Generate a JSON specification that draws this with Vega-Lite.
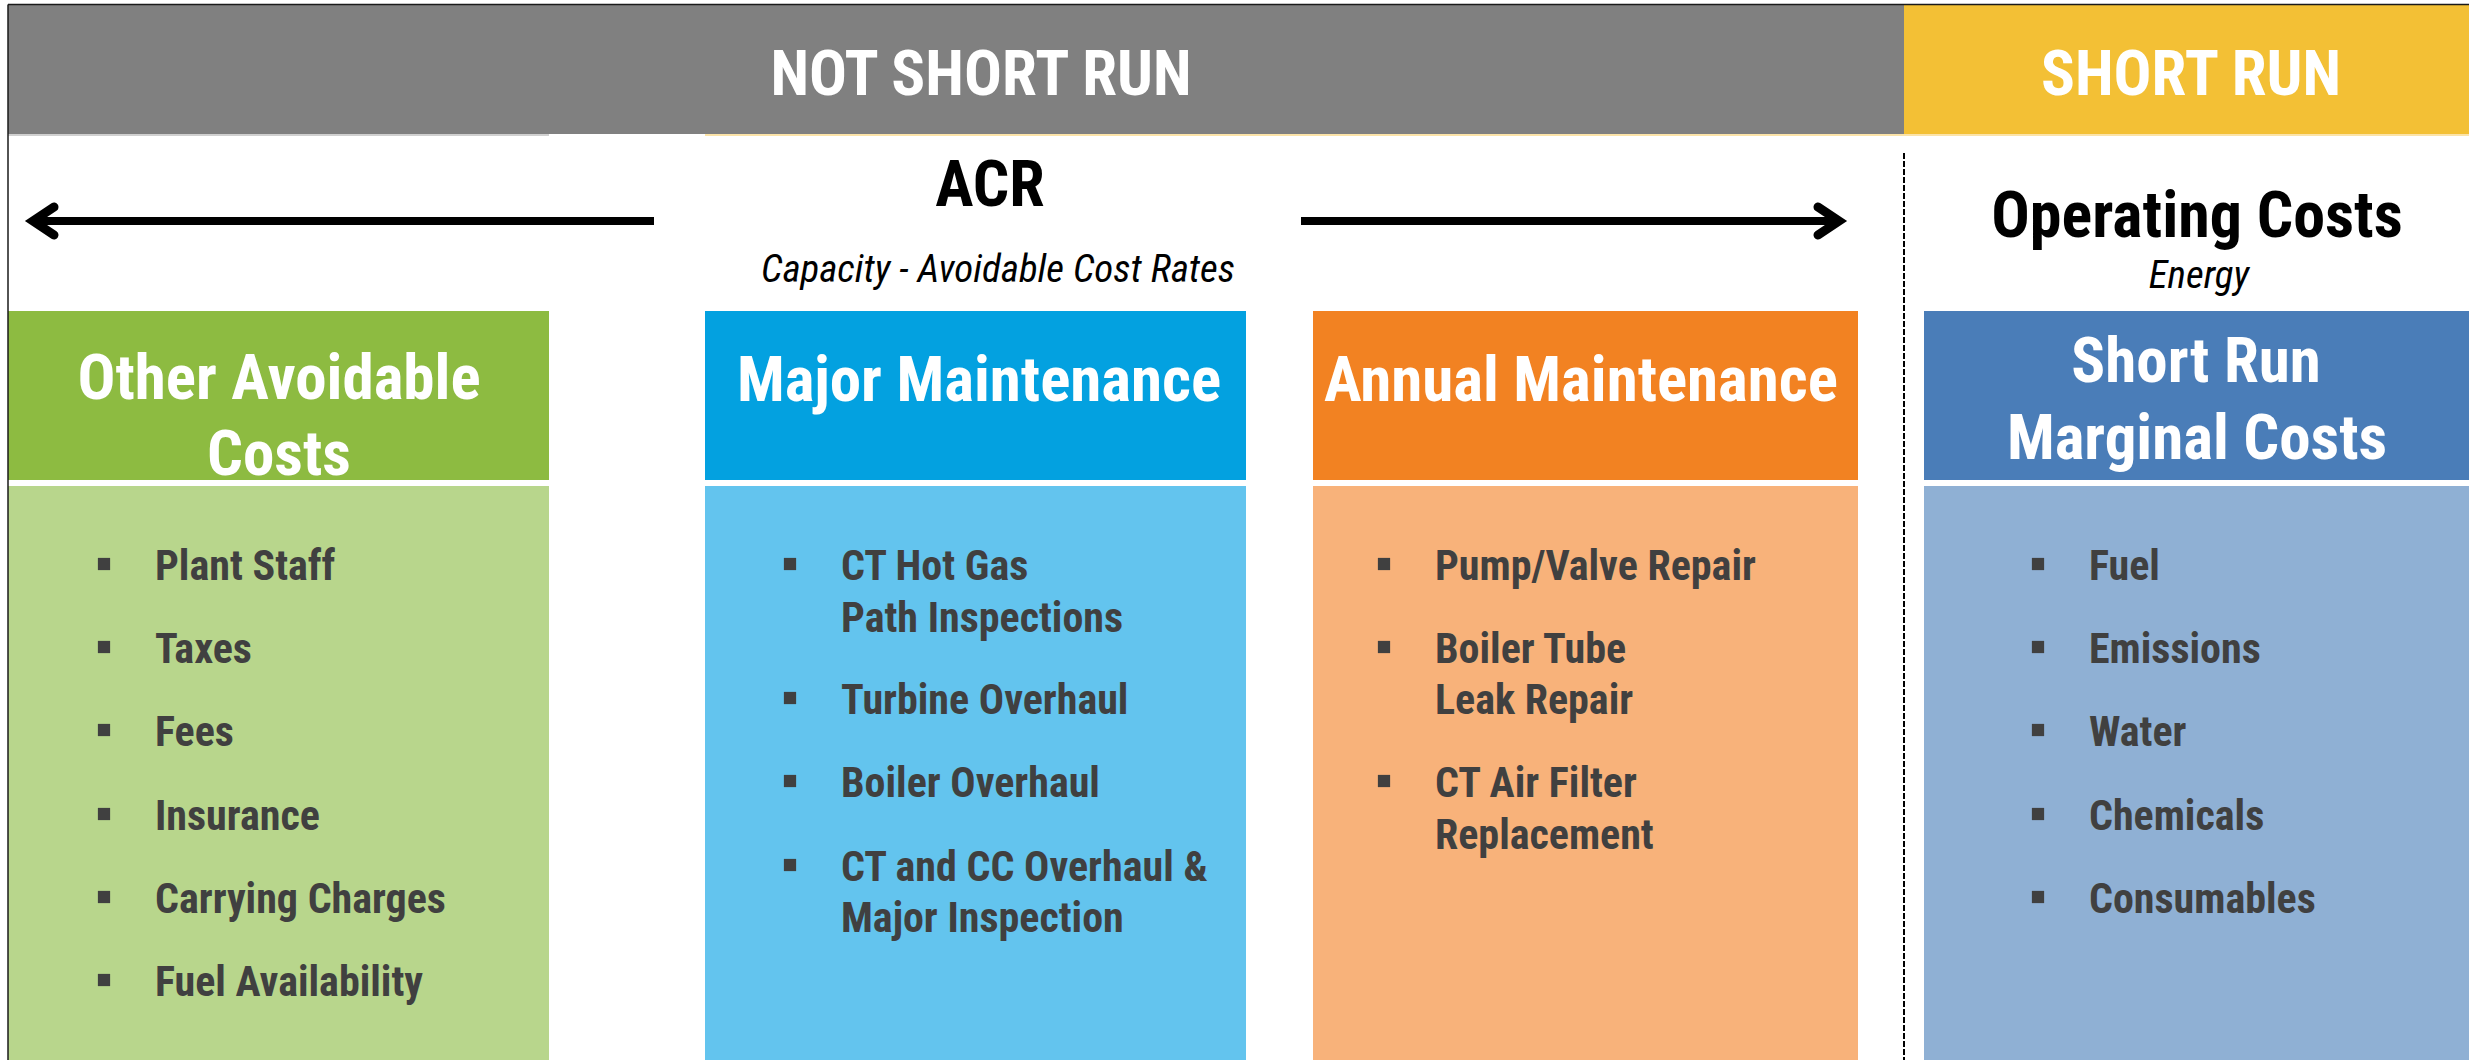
{
  "$schema": "https://vega.github.io/schema/vega-lite/v6.json",
  "width": 2469,
  "height": 1060,
  "padding": 0,
  "autosize": {"type": "none"},
  "background": "#ffffff",
  "config": {"view": {"stroke": null}},
  "resolve": {"scale": {"color": "independent"}},
  "datasets": {
    "blocks": [
      {"section": "NOT SHORT RUN banner", "x": 8, "x2": 1904, "y": 5, "y2": 134},
      {"section": "SHORT RUN banner", "x": 1904, "x2": 2469, "y": 5, "y2": 134},
      {"section": "Other Avoidable Costs header", "x": 8, "x2": 549, "y": 311, "y2": 480},
      {"section": "Other Avoidable Costs list", "x": 8, "x2": 549, "y": 486, "y2": 1060},
      {"section": "Major Maintenance header", "x": 705, "x2": 1246, "y": 311, "y2": 480},
      {"section": "Major Maintenance list", "x": 705, "x2": 1246, "y": 486, "y2": 1060},
      {"section": "Annual Maintenance header", "x": 1313, "x2": 1858, "y": 311, "y2": 480},
      {"section": "Annual Maintenance list", "x": 1313, "x2": 1858, "y": 486, "y2": 1060},
      {"section": "Short Run Marginal Costs header", "x": 1924, "x2": 2469, "y": 311, "y2": 480},
      {"section": "Short Run Marginal Costs list", "x": 1924, "x2": 2469, "y": 486, "y2": 1060}
    ],
    "lines": [
      {"kind": "frame", "x": 8, "x2": 2469, "y": 4.5, "y2": 4.5},
      {"kind": "frame", "x": 8, "x2": 8, "y": 4.5, "y2": 1060},
      {"kind": "shaft", "x": 33, "x2": 654, "y": 221, "y2": 221},
      {"kind": "shaft", "x": 1301, "x2": 1840, "y": 221, "y2": 221},
      {"kind": "divider", "x": 1904, "x2": 1904, "y": 153, "y2": 1060},
      {"kind": "greyedge", "x": 8, "x2": 549, "y": 135, "y2": 135},
      {"kind": "yellowedge", "x": 705, "x2": 2469, "y": 135, "y2": 135}
    ],
    "heads": [
      {"arrow": "left", "order": 1, "x": 54, "y": 207},
      {"arrow": "left", "order": 2, "x": 33, "y": 221},
      {"arrow": "left", "order": 3, "x": 54, "y": 235},
      {"arrow": "right", "order": 1, "x": 1818, "y": 207},
      {"arrow": "right", "order": 2, "x": 1839, "y": 221},
      {"arrow": "right", "order": 3, "x": 1818, "y": 235}
    ],
    "labels": [
      {"role": "banner", "text": "NOT SHORT RUN", "x": 981, "y": 95},
      {"role": "banner", "text": "SHORT RUN", "x": 2191, "y": 95},
      {"role": "title", "text": "ACR", "x": 990, "y": 206},
      {"role": "title", "text": "Operating Costs", "x": 2197, "y": 237},
      {"role": "subtitle", "text": "Capacity - Avoidable Cost Rates", "x": 998, "y": 282},
      {"role": "subtitle", "text": "Energy", "x": 2199, "y": 288},
      {"role": "header", "text": "Other Avoidable", "x": 279, "y": 399},
      {"role": "header", "text": "Costs", "x": 279, "y": 475},
      {"role": "header", "text": "Major Maintenance", "x": 979, "y": 401},
      {"role": "header", "text": "Annual Maintenance", "x": 1581, "y": 401},
      {"role": "header", "text": "Short Run", "x": 2196, "y": 382},
      {"role": "header", "text": "Marginal Costs", "x": 2197, "y": 459}
    ],
    "items": [
      {"column": "Other Avoidable Costs", "text": "Plant Staff", "bullet": true, "x": 155, "y": 580},
      {"column": "Other Avoidable Costs", "text": "Taxes", "bullet": true, "x": 155, "y": 663},
      {"column": "Other Avoidable Costs", "text": "Fees", "bullet": true, "x": 155, "y": 746},
      {"column": "Other Avoidable Costs", "text": "Insurance", "bullet": true, "x": 155, "y": 830},
      {"column": "Other Avoidable Costs", "text": "Carrying Charges", "bullet": true, "x": 155, "y": 913},
      {"column": "Other Avoidable Costs", "text": "Fuel Availability", "bullet": true, "x": 155, "y": 996},
      {"column": "Major Maintenance", "text": "CT Hot Gas", "bullet": true, "x": 841, "y": 580},
      {"column": "Major Maintenance", "text": "Path Inspections", "bullet": false, "x": 841, "y": 632},
      {"column": "Major Maintenance", "text": "Turbine Overhaul", "bullet": true, "x": 841, "y": 714},
      {"column": "Major Maintenance", "text": "Boiler Overhaul", "bullet": true, "x": 841, "y": 797},
      {"column": "Major Maintenance", "text": "CT and CC Overhaul &", "bullet": true, "x": 841, "y": 881},
      {"column": "Major Maintenance", "text": "Major Inspection", "bullet": false, "x": 841, "y": 932},
      {"column": "Annual Maintenance", "text": "Pump/Valve Repair", "bullet": true, "x": 1435, "y": 580},
      {"column": "Annual Maintenance", "text": "Boiler Tube", "bullet": true, "x": 1435, "y": 663},
      {"column": "Annual Maintenance", "text": "Leak Repair", "bullet": false, "x": 1435, "y": 714},
      {"column": "Annual Maintenance", "text": "CT Air Filter", "bullet": true, "x": 1435, "y": 797},
      {"column": "Annual Maintenance", "text": "Replacement", "bullet": false, "x": 1435, "y": 849},
      {"column": "Short Run Marginal Costs", "text": "Fuel", "bullet": true, "x": 2089, "y": 580},
      {"column": "Short Run Marginal Costs", "text": "Emissions", "bullet": true, "x": 2089, "y": 663},
      {"column": "Short Run Marginal Costs", "text": "Water", "bullet": true, "x": 2089, "y": 746},
      {"column": "Short Run Marginal Costs", "text": "Chemicals", "bullet": true, "x": 2089, "y": 830},
      {"column": "Short Run Marginal Costs", "text": "Consumables", "bullet": true, "x": 2089, "y": 913}
    ]
  },
  "encoding": {
    "x": {"field": "x", "type": "quantitative", "scale": {"domain": [0, 2469], "nice": false, "zero": false}, "axis": null},
    "y": {"field": "y", "type": "quantitative", "scale": {"domain": [0, 1060], "reverse": true, "nice": false, "zero": false}, "axis": null}
  },
  "layer": [
    {
      "data": {"name": "blocks"},
      "mark": {"type": "rect"},
      "encoding": {
        "x2": {"field": "x2"},
        "y2": {"field": "y2"},
        "color": {
          "field": "section", "type": "nominal", "legend": null,
          "scale": {
            "domain": ["NOT SHORT RUN banner", "SHORT RUN banner", "Other Avoidable Costs header", "Other Avoidable Costs list", "Major Maintenance header", "Major Maintenance list", "Annual Maintenance header", "Annual Maintenance list", "Short Run Marginal Costs header", "Short Run Marginal Costs list"],
            "range": ["#808080", "#F3C035", "#8DBB41", "#B8D68C", "#03A1E0", "#63C4EE", "#F28222", "#F8B27A", "#4A7DB8", "#8FB0D4"]
          }
        }
      }
    },
    {
      "data": {"name": "lines"},
      "transform": [{"filter": "datum.kind === 'greyedge'"}],
      "mark": {"type": "rule", "color": "#d0d0d0", "strokeWidth": 2},
      "encoding": {"x2": {"field": "x2"}, "y2": {"field": "y2"}}
    },
    {
      "data": {"name": "lines"},
      "transform": [{"filter": "datum.kind === 'yellowedge'"}],
      "mark": {"type": "rule", "color": "#fbe3a8", "strokeWidth": 2},
      "encoding": {"x2": {"field": "x2"}, "y2": {"field": "y2"}}
    },
    {
      "data": {"name": "lines"},
      "transform": [{"filter": "datum.kind === 'frame'"}],
      "mark": {"type": "rule", "color": "#1a1a1a", "strokeWidth": 1.5},
      "encoding": {"x2": {"field": "x2"}, "y2": {"field": "y2"}}
    },
    {
      "data": {"name": "lines"},
      "transform": [{"filter": "datum.kind === 'divider'"}],
      "mark": {"type": "rule", "color": "#000000", "strokeWidth": 2, "strokeDash": [6, 2]},
      "encoding": {"x2": {"field": "x2"}, "y2": {"field": "y2"}}
    },
    {
      "data": {"name": "lines"},
      "transform": [{"filter": "datum.kind === 'shaft'"}],
      "mark": {"type": "rule", "color": "#000000", "strokeWidth": 8},
      "encoding": {"x2": {"field": "x2"}, "y2": {"field": "y2"}}
    },
    {
      "data": {"name": "heads"},
      "mark": {"type": "line", "color": "#000000", "strokeWidth": 9, "strokeJoin": "miter", "strokeCap": "round"},
      "encoding": {
        "detail": {"field": "arrow", "type": "nominal"},
        "order": {"field": "order", "type": "quantitative"}
      }
    },
    {
      "data": {"name": "labels"},
      "transform": [{"filter": "datum.role === 'banner' || datum.role === 'header'"}],
      "mark": {"type": "text", "align": "center", "baseline": "alphabetic", "font": "Roboto Condensed, Liberation Sans", "fontSize": 63, "fontWeight": "bold", "color": "#ffffff"},
      "encoding": {"text": {"field": "text", "type": "nominal"}}
    },
    {
      "data": {"name": "labels"},
      "transform": [{"filter": "datum.role === 'title'"}],
      "mark": {"type": "text", "align": "center", "baseline": "alphabetic", "font": "Roboto Condensed, Liberation Sans", "fontSize": 64, "fontWeight": "bold", "color": "#000000"},
      "encoding": {"text": {"field": "text", "type": "nominal"}}
    },
    {
      "data": {"name": "labels"},
      "transform": [{"filter": "datum.role === 'subtitle'"}],
      "mark": {"type": "text", "align": "center", "baseline": "alphabetic", "font": "Roboto Condensed, Liberation Sans", "fontSize": 39, "fontStyle": "italic", "fontWeight": "normal", "color": "#000000"},
      "encoding": {"text": {"field": "text", "type": "nominal"}}
    },
    {
      "data": {"name": "items"},
      "mark": {"type": "text", "align": "left", "baseline": "alphabetic", "font": "Roboto Condensed, Liberation Sans", "fontSize": 42, "fontWeight": "bold", "color": "#404040"},
      "encoding": {"text": {"field": "text", "type": "nominal"}}
    },
    {
      "data": {"name": "items"},
      "transform": [{"filter": "datum.bullet"}],
      "mark": {"type": "square", "filled": true, "color": "#404040", "opacity": 1, "size": 150, "xOffset": -51, "yOffset": -16},
      "encoding": {}
    }
  ]
}
